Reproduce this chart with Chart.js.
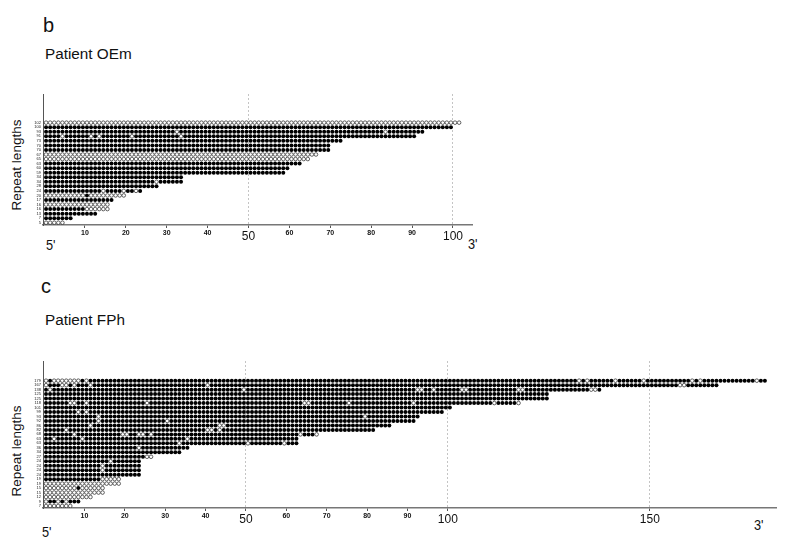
<!DOCTYPE html>
<html>
<head>
<meta charset="utf-8">
<title>Repeat lengths</title>
<script src="https://cdn.jsdelivr.net/npm/chart.js@4/dist/chart.umd.min.js"></script>
<style>
  html, body { margin: 0; padding: 0; background: #fff; }
  body { position: relative; width: 800px; height: 556px; overflow: hidden; font-family: "Liberation Sans", Arial, sans-serif; color: #111; }
  canvas { position: absolute; left: 0; }
  .label { position: absolute; white-space: nowrap; line-height: 1; }
  .panel { font-size: 20px; }
  .patient { font-size: 15.3px; }
  .end { font-size: 15px; transform: scaleX(0.85); transform-origin: left; }
  .side { font-size: 13.5px; transform: translate(-50%, -50%) rotate(-90deg); }
</style>
</head>
<body>
<div class="label panel" style="left:43px;top:15px">b</div>
<div class="label patient" style="left:45px;top:46px">Patient OEm</div>
<div class="label side" style="left:17px;top:165px">Repeat lengths</div>
<div class="label end" style="left:46px;top:237px">5'</div>
<div class="label end" style="left:468px;top:236px">3'</div>
<canvas id="chartB" width="480" height="156" style="top:94px"></canvas>

<div class="label panel" style="left:41px;top:276px">c</div>
<div class="label patient" style="left:45px;top:312px">Patient FPh</div>
<div class="label side" style="left:17px;top:451px">Repeat lengths</div>
<div class="label end" style="left:42px;top:524px">5'</div>
<div class="label end" style="left:754px;top:517px">3'</div>
<canvas id="chartC" width="784" height="172" style="top:361px"></canvas>

<script>
// rows run from the bottom of the plot upwards
const lengthsB = [5, 7, 13, 16, 16, 17, 20, 24, 28, 34, 34, 59, 60, 63, 65, 67, 70, 70, 73, 91, 93, 100, 102];
const openRowsB = [0, 4, 6, 14, 15, 22];
const flipsB = {
  3: [11, 12, 13, 14, 15, 16],
  6: [11],
  7: [15, 20, 23],
  9: [28],
  19: [5, 12, 14, 22, 34],
  20: [33, 84]
};
const ticksB = [10, 20, 30, 40, 50, 60, 70, 80, 90, 100];

const lengthsC = [7, 9, 12, 15, 15, 19, 19, 24, 24, 24, 24, 27, 34, 36, 63, 63, 68, 82, 86, 92, 93, 99, 101, 118, 125, 125, 138, 167, 179];
const openRowsC = [0, 2, 3, 4, 5];
const flipsC = {
  1: [1, 4, 6],
  4: [9],
  6: [15, 16, 17, 18, 19],
  8: [15],
  9: [15],
  10: [17],
  11: [26, 27],
  13: [24],
  14: [34, 51, 60],
  15: [3, 10, 36, 81],
  16: [8, 20, 21, 24, 25, 27, 64, 68, 83],
  17: [6, 41, 42, 44],
  18: [12, 44, 45],
  19: [14, 31],
  20: [14, 80],
  21: [9, 11],
  23: [7, 8, 11, 26, 65, 66, 76, 92, 112, 118],
  26: [2, 50, 93, 94, 97, 104, 105, 118, 119, 136, 137],
  27: [1, 5, 6, 8, 12, 41, 158, 159],
  28: [1, 3, 4, 5, 6, 7, 8, 9, 11, 133, 135, 142, 149, 161, 163, 177]
};
const ticksC = [10, 20, 30, 40, 50, 60, 70, 80, 90, 100, 150];

const bigTicks = [50, 100, 150];

function buildPoints(lengths, openRows, flips) {
  const filled = [];
  const open = [];
  lengths.forEach((len, row) => {
    for (let site = 1; site <= len; site++) {
      const flipped = (flips[row] || []).includes(site);
      // each repeat sits in the middle of its own unit on the axis
      const point = { x: site - 0.5, y: row };
      if (openRows.includes(row) !== flipped) open.push(point);
      else filled.push(point);
    }
  });
  return { filled, open };
}

function drawPanel(id, lengths, openRows, flips, xTicks, xRange, yRange, xHeight) {
  const points = buildPoints(lengths, openRows, flips);
  const ctx = document.getElementById(id).getContext("2d");

  return new Chart(ctx, {
    type: "scatter",
    data: {
      datasets: [
        {
          label: "open",
          data: points.open,
          pointRadius: 1.8,
          pointBackgroundColor: "#fff",
          pointBorderColor: "#222",
          pointBorderWidth: 0.7
        },
        {
          label: "filled",
          data: points.filled,
          pointRadius: 2,
          pointBackgroundColor: "#000",
          pointBorderWidth: 0
        }
      ]
    },
    options: {
      responsive: false,
      animation: false,
      layout: { autoPadding: false, padding: { left: 0, right: 8, top: 0, bottom: 0 } },
      plugins: { legend: { display: false }, tooltip: { enabled: false } },
      scales: {
        x: {
          type: "linear",
          min: xRange[0],
          max: xRange[1],
          afterBuildTicks(scale) {
            scale.ticks = xTicks.map((v) => ({ value: v }));
          },
          afterFit(scale) {
            scale.height = xHeight;
            scale.paddingLeft = 0;
            scale.paddingRight = 0;
          },
          border: { color: "#777", width: 1.5, dash: [2, 2] },
          grid: {
            tickLength: 3,
            tickColor: "#555",
            color: (c) => (c.tick && bigTicks.includes(c.tick.value) ? "#c4c4c4" : "rgba(0,0,0,0)")
          },
          ticks: {
            autoSkip: false,
            maxRotation: 0,
            padding: 1,
            color: "#111",
            font: (c) =>
              c.tick && bigTicks.includes(c.tick.value)
                ? { family: "Liberation Sans", size: 12 }
                : { family: "Liberation Sans", size: 7, weight: "bold" }
          }
        },
        y: {
          type: "linear",
          min: yRange[0],
          max: yRange[1],
          afterBuildTicks(scale) {
            scale.ticks = lengths.map((len, row) => ({ value: row }));
          },
          afterFit(scale) {
            scale.width = 43;
            scale.paddingTop = 0;
            scale.paddingBottom = 0;
          },
          border: { color: "#555", width: 1 },
          grid: { display: false, drawTicks: false },
          ticks: {
            autoSkip: false,
            padding: 2,
            color: "#222",
            font: { family: "Liberation Sans", size: 4 },
            callback: (value) => lengths[value]
          }
        }
      }
    }
  });
}

drawPanel("chartB", lengthsB, openRowsB, flipsB, ticksB, [-0.25, 104.65], [-0.5, 28.3], 25);
drawPanel("chartC", lengthsC, openRowsC, flipsC, ticksC, [-0.25, 181.25], [-0.45, 32.4], 25);
</script>
</body>
</html>
